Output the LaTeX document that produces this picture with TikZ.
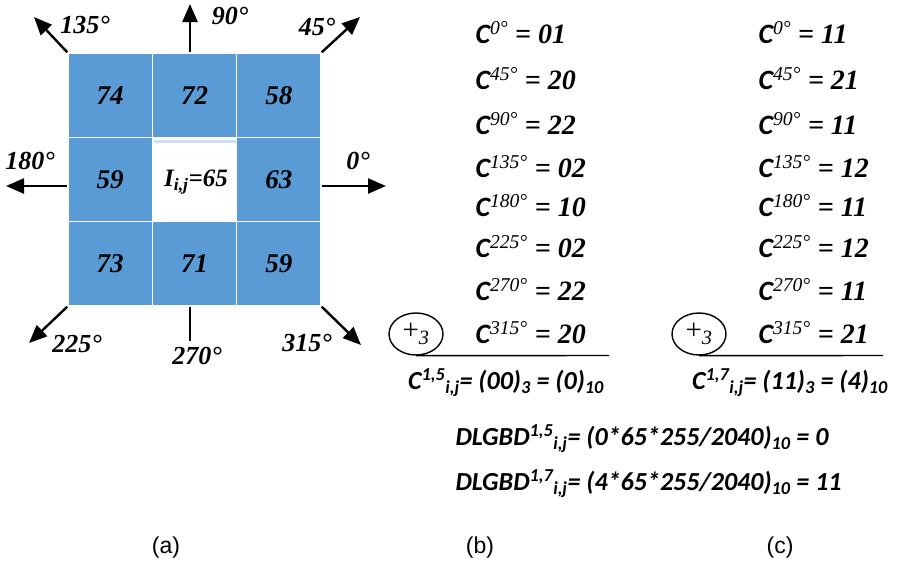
\documentclass[tikz,border=0pt]{standalone}
\usepackage{fontspec}
\setmainfont{Liberation Serif}
\setsansfont{Liberation Sans}
\newfontfamily\calfont{Carlito}
\newfontfamily\timesfont{Liberation Serif}
\usepackage{tikz}
\usetikzlibrary{arrows.meta, positioning, shapes.geometric}
\definecolor{cellblue}{RGB}{91,155,213}

% one line of the direction codes
\newcommand{\dircode}[2]{{\calfont\bfseries\itshape C}\textsuperscript{\timesfont\itshape #1°}{\timesfont\bfseries\itshape{} = #2}}
\newcommand{\sumcode}[3]{C\textsuperscript{#1}\textsubscript{i,j}= (#2)\textsubscript{3} = (#3)\textsubscript{10}}
\newcommand{\dlgcode}[3]{DLGBD\textsuperscript{#1}\textsubscript{i,j}= (#2)\textsubscript{10} = #3}

\begin{document}
\begin{tikzpicture}[
    x=1pt, y=-1pt,
    cell/.style={fill=cellblue, draw=white, line width=1.5pt, minimum size=84.3pt, inner sep=0pt,
        font=\fontsize{27}{30}\selectfont\bfseries\itshape},
    dirarrow/.style={line width=2.4pt, -{Triangle[length=18pt, width=15pt]}},
    deg/.style={font=\fontsize{26}{28}\selectfont\bfseries\itshape},
    code/.style={anchor=west, font=\fontsize{28}{32}\selectfont},
    sumring/.style={draw, ellipse, line width=1.4pt, minimum width=54pt, minimum height=42pt, inner sep=0pt,
        font=\fontsize{29}{32}\selectfont},
    result/.style={font=\calfont\fontsize{26}{30}\selectfont\bfseries\itshape},
    caption/.style={font=\sffamily\fontsize{23}{27}\selectfont}
]
\useasboundingbox (0,0) rectangle (901,562);

% (a) neighbourhood
\node[cell] (nw) at (110.2,95.2) {74};
\node[cell] (n) at (194.5,95.2) {72};
\node[cell] (ne) at (278.8,95.2) {58};
\node[cell] (w) at (110.2,179.5) {59};
\node[cell, fill=none] (c) at (194.5,179.5) {};
\node[cell] (e) at (278.8,179.5) {63};
\node[cell] (sw) at (110.2,263.8) {73};
\node[cell] (s) at (194.5,263.8) {71};
\node[cell] (se) at (278.8,263.8) {59};
\fill[cellblue!30] (153.5,139.5) rectangle (235.5,142.5);
\node[font=\fontsize{25}{28}\selectfont\bfseries\itshape] (pix) at (196,182) {I\textsubscript{i,j}=65};

\coordinate (t135) at (34,17);
\coordinate (t90) at (190,4);
\coordinate (t45) at (360,17);
\coordinate (t180) at (6,186);
\coordinate (t0) at (386,186);
\coordinate (t225) at (29,343);
\coordinate (t270) at (190,341);
\coordinate (t315) at (361,345);
\draw[dirarrow] (nw.north west) -- (t135);
\draw[dirarrow] (t90 |- n.north) -- (t90);
\draw[dirarrow] (ne.north east) -- (t45);
\draw[dirarrow] (w.west |- t180) -- (t180);
\draw[dirarrow] (e.east |- t0) -- (t0);
\draw[dirarrow] (sw.south west) -- (t225);
\draw[line width=2.4pt] (t270 |- s.south) -- (t270);
\draw[dirarrow] (se.south east) -- (t315);
\node[deg] (l135) at (85,25) {135°};
\node[deg] (l90) at (230,16) {90°};
\node[deg] (l45) at (317,27) {45°};
\node[deg] (l180) at (30,161) {180°};
\node[deg] (l0) at (358,161) {0°};
\node[deg] (l225) at (77,344) {225°};
\node[deg] (l270) at (197,356) {270°};
\node[deg] (l315) at (307,343) {315°};

% (b) and (c) codes
\node[code] (b0) at (472,33) {\dircode{0}{01}};
\node[code] (b45) at (472,79) {\dircode{45}{20}};
\node[code] (b90) at (472,124) {\dircode{90}{22}};
\node[code] (b135) at (472,167) {\dircode{135}{02}};
\node[code] (b180) at (472,206) {\dircode{180}{10}};
\node[code] (b225) at (472,247) {\dircode{225}{02}};
\node[code] (b270) at (472,290) {\dircode{270}{22}};
\node[code] (b315) at (472,333) {\dircode{315}{20}};
\node[code] (c0) at (755,33) {\dircode{0}{11}};
\node[code] (c45) at (755,79) {\dircode{45}{21}};
\node[code] (c90) at (755,124) {\dircode{90}{11}};
\node[code] (c135) at (755,167) {\dircode{135}{12}};
\node[code] (c180) at (755,206) {\dircode{180}{11}};
\node[code] (c225) at (755,247) {\dircode{225}{12}};
\node[code] (c270) at (755,290) {\dircode{270}{11}};
\node[code] (c315) at (755,333) {\dircode{315}{21}};

\node[sumring] (plus5) at (416,334) {+\textsubscript{\itshape 3}};
\node[sumring] (plus7) at (699,334) {+\textsubscript{\itshape 3}};
\coordinate (end5) at (609,355.5);
\coordinate (end7) at (883,355.5);
\draw[line width=1.4pt] (plus5.south) -- (end5);
\draw[line width=1.4pt] (plus7.south) -- (end7);

\node[result] (res5) at (506,383) {\sumcode{1,5}{00}{0}};
\node[result] (res7) at (790,383) {\sumcode{1,7}{11}{4}};
\node[result, anchor=west] (dlg5) at (452,439) {\dlgcode{1,5}{0*65*255/2040}{0}};
\node[result, anchor=west] (dlg7) at (452,484) {\dlgcode{1,7}{4*65*255/2040}{11}};

\node[caption] (capa) at (166,548) {(a)};
\node[caption] (capb) at (480,548) {(b)};
\node[caption] (capc) at (780,548) {(c)};
\end{tikzpicture}
\end{document}
